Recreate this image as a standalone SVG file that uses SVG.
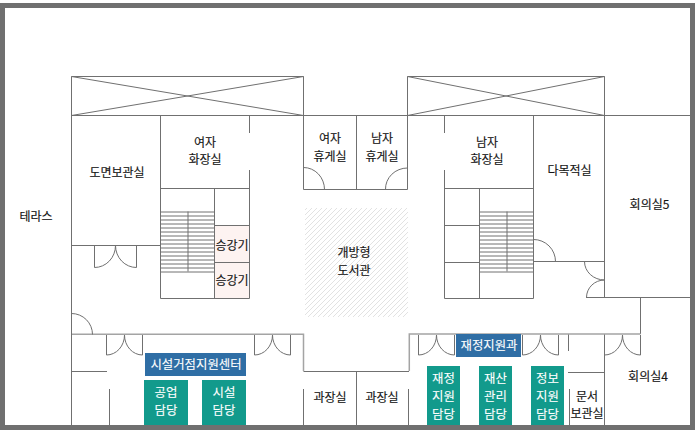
<svg xmlns="http://www.w3.org/2000/svg" width="696" height="433" viewBox="0 0 696 433">
<style>
.w{fill:none;stroke:#707070;stroke-width:1}
.c{fill:none;stroke:#a4a4a4;stroke-width:1.5}
text{font-family:"Noto Sans CJK KR","Noto Sans",sans-serif;font-size:12px;fill:#151515;stroke:#151515;stroke-width:.15;text-anchor:middle}
.l text,text.l{fill:#fff;stroke:#fff;stroke-width:.1;font-size:12.4px}
.b{fill:#2f6ea5}.g{fill:#129a8c}
</style>
<defs>
<pattern id="h" width="5" height="5" patternUnits="userSpaceOnUse">
<rect width="5" height="5" fill="#fff"/><path d="M-1 6L6 -1M-1 1L1 -1M4 6L6 4" fill="none" stroke="#dadada" stroke-width=".8"/>
</pattern>
<path id="d1" class="w" d="M0 0V22A21 22 0 0 0 21 0A21 22 0 0 0 42 22V0"/>
<path id="d2" class="w" d="M0 0V20A18 20 0 0 0 18 0A18 20 0 0 0 36 20V0"/>
<g id="st">
<path class="w" d="M0 .5H54M0 4.500H54M0 8.500H54M0 12.500H54M0 16.500H54M0 20.500H54M0 24.500H54M0 28.500H54M0 32.500H54M0 36.500H54M0 40.500H54M0 44.500H54M0 48.500H54M0 52.500H54M0 56.500H54M0 60.500H54"/>
<path class="w" d="M27.500 0V60"/>
</g>
</defs>
<rect x="2.500" y="5.500" width="690" height="422" fill="#fff" stroke="#707070" stroke-width="5"/>
<rect x="215" y="226" width="34" height="72" fill="#fdf3f1"/>
<rect x="305" y="208" width="103" height="109" fill="url(#h)"/>
<g id="walls">
<path class="w" d="M71.500 425V76.500H303.500V189.500H407.500V76.500H604.500V297"/>
<path class="w" d="M71.500 115.500H690M71.500 76.500L303.500 115.500M303.500 76.500L71.500 115.500M407.500 76.500L604.500 115.500M604.500 76.500L407.500 115.500"/>
<path class="w" d="M71.500 245.500H160.500M160.500 115.500V298.500H249.500V170M249.500 133V115.500M160.500 188.500H249.500M214.500 188.500V298.500M214.500 225.500H249.500M214.500 262.500H249.500"/>
<path class="w" d="M356.500 115.500V189.500"/>
<path class="w" d="M444.500 115.500V133M444.500 170V298.500H533.500V115.500M444.500 188.500H533.500M479.500 188.500V298.500M444.500 225.500H479.500M444.500 262.500H479.500M533.500 261.500H604.500"/>
<path class="w" d="M586 297.500H690M640.500 297.500V334"/>
<path class="w" d="M71.500 334.500H73M71.500 371.500H107M109.500 389V425M303.500 371.500H409M303.500 389V425M356.500 371.500V425M408.500 389V425M568.500 334V351M568 372.500H604.500M604.500 334V425M569.500 389V425"/>
<path class="c" d="M72 334.300H303.500V371M409.300 371V334H640.500"/>
</g>
<g id="stairs"><use href="#st" x="160.500" y="211.500"/><use href="#st" x="479.500" y="211.500"/></g>
<g id="doors">
<use href="#d1" x="94.500" y="245.500"/>
<use href="#d2" x="106.500" y="335"/><use href="#d2" x="254.500" y="335"/><use href="#d2" x="418.500" y="335"/><use href="#d2" x="522.500" y="335"/><use href="#d2" x="604.500" y="335"/>
<path class="w" d="M303.500 167.500A21 22 0 0 1 324.500 189.500M407.500 168A22 21 0 0 0 385.500 189.500M533.500 239.500A22 22 0 0 1 555.500 261.500M71.500 313.500A21 21 0 0 1 92.500 334.500M584.500 261.500A20 18.500 0 0 0 604.500 280A18 17.500 0 0 0 586.500 297.500"/>
</g>
<g id="terrace"><text x="36" y="220.500">테라스</text></g>
<g id="room-drawing"><text x="117" y="176.500">도면보관실</text></g>
<g id="room-wc-f"><text x="205" y="146.500">여자</text><text x="205" y="164">화장실</text></g>
<g id="lift-1"><text x="232" y="250">승강기</text></g>
<g id="lift-2"><text x="232" y="285">승강기</text></g>
<g id="rest-f"><text x="330" y="143">여자</text><text x="330" y="160.500">휴게실</text></g>
<g id="rest-m"><text x="382" y="143">남자</text><text x="382" y="160.500">휴게실</text></g>
<g id="room-wc-m"><text x="487" y="146.500">남자</text><text x="487" y="164">화장실</text></g>
<g id="room-multi"><text x="569.500" y="174.500">다목적실</text></g>
<g id="room-5"><text x="649.500" y="208.500">회의실5</text></g>
<g id="library"><text x="354" y="257">개방형</text><text x="354" y="274.500">도서관</text></g>
<g id="room-4"><text x="648" y="381">회의실4</text></g>
<g id="chief-1"><text x="330" y="402">과장실</text></g>
<g id="chief-2"><text x="382" y="402">과장실</text></g>
<g id="archive"><text x="587" y="400.500">문서</text><text x="587" y="418">보관실</text></g>
<g id="center"><rect class="b" x="145" y="353" width="101" height="23"/><text class="l" x="196" y="369">시설거점지원센터</text></g>
<g id="t-gong" class="l"><rect class="g" x="144" y="380" width="44" height="45"/><text x="166" y="397">공업</text><text x="166" y="415">담당</text></g>
<g id="t-si" class="l"><rect class="g" x="202" y="380" width="44" height="45"/><text x="224" y="397">시설</text><text x="224" y="415">담당</text></g>
<g id="finance"><rect class="b" x="456" y="334" width="65" height="23"/><text class="l" x="489" y="350">재정지원과</text></g>
<g id="t-jj" class="l"><rect class="g" x="427" y="366" width="33" height="59"/><text x="443.500" y="382.500">재정</text><text x="443.500" y="400.500">지원</text><text x="443.500" y="418.500">담당</text></g>
<g id="t-js" class="l"><rect class="g" x="479" y="366" width="33" height="59"/><text x="495.500" y="382.500">재산</text><text x="495.500" y="400.500">관리</text><text x="495.500" y="418.500">담당</text></g>
<g id="t-jb" class="l"><rect class="g" x="531" y="366" width="33" height="59"/><text x="547.500" y="382.500">정보</text><text x="547.500" y="400.500">지원</text><text x="547.500" y="418.500">담당</text></g>
</svg>
